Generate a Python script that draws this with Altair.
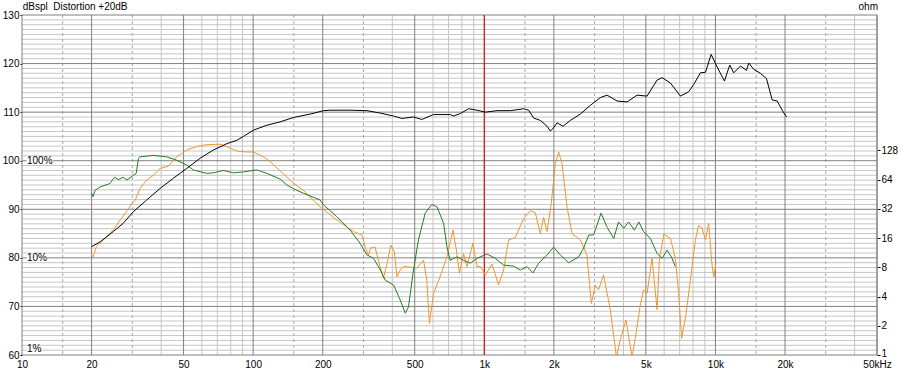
import altair as alt
import pandas as pd

# ---------------- data ----------------
SPL_F = [20.0, 21.8, 24.8, 27.4, 30.3, 34.6, 39.6, 45.2, 51.6, 58.9, 67.3, 76.9, 85.0, 90.8, 100.3,
         114.6, 130.9, 149.4, 176.5, 201.5, 215, 263, 311, 355, 405, 440, 494, 537, 603, 712, 736,
         787, 855, 930, 1010, 1135, 1296, 1480, 1555, 1635, 1748, 1868, 1931, 1995, 2064, 2191,
         2357, 2604, 2877, 3178, 3398, 3753, 4147, 4581, 5061, 5592, 5879, 6387, 7056, 7663, 8056,
         8610, 9052, 9581, 10170, 10940, 11530, 12000, 12830, 13620, 13940, 14650, 15660, 16630,
         17600, 18500, 19440, 20300]
SPL_DB = [82.3, 83.3, 85.4, 87.1, 89.5, 91.9, 94.3, 96.4, 98.4, 100.5, 102.2, 103.5, 104.2, 105.0,
          106.3, 107.3, 108.0, 108.9, 109.6, 110.3, 110.4, 110.4, 110.3, 109.8, 109.2, 108.7, 109.0,
          108.5, 109.5, 109.5, 109.2, 109.7, 110.7, 110.4, 110.0, 110.3, 110.3, 110.7, 110.4, 108.8,
          108.3, 107.1, 106.1, 106.8, 107.8, 107.1, 108.3, 109.6, 111.4, 113.0, 113.5, 112.3, 112.1,
          113.5, 113.3, 116.6, 117.1, 116.0, 113.3, 114.2, 115.7, 118.1, 118.2, 121.9, 119.3, 116.4,
          119.7, 118.1, 119.5, 118.6, 120.1, 118.8, 118.0, 116.9, 112.5, 112.3, 110.4, 109.0]

H2_F = [20.0, 20.3, 20.7, 21.8, 24.0, 25.1, 26.1, 27.4, 28.4, 30.3, 31.2, 31.9, 32.4, 37.0, 42.3,
        46.7, 51.6, 55.1, 63.0, 67.3, 74.3, 82.1, 90.8, 103.7, 114.6, 130.9, 139.9, 154.5, 165.1,
        194.9, 201.5, 230, 263, 290, 311, 332, 355, 373, 405, 433, 455, 470, 494, 519, 555, 593,
        624, 667, 689, 712, 761, 813, 870, 930, 1027, 1116, 1212, 1339, 1431, 1530, 1625, 1718,
        1868, 1995, 2133, 2317, 2560, 2690, 2830, 2970, 3200, 3398, 3630, 3810, 4010, 4210, 4460,
        4660, 4890, 5230, 5592, 5879, 6180, 6490, 6710]
H2_DB = [93.3, 92.6, 93.9, 94.6, 95.3, 96.6, 96.1, 96.6, 96.0, 97.0, 97.4, 100.5, 100.8, 101.1,
         100.8, 100.1, 99.1, 98.1, 97.4, 97.5, 98.0, 97.5, 97.7, 98.1, 97.4, 96.2, 95.0, 93.9, 93.3,
         91.9, 90.9, 88.5, 85.7, 83.0, 80.6, 79.9, 77.5, 75.4, 74.4, 71.3, 68.6, 69.9, 77.5, 83.7,
         89.2, 91.0, 90.5, 87.1, 82.3, 79.5, 80.2, 79.5, 78.9, 79.9, 80.8, 79.9, 78.5, 78.3, 77.5,
         78.2, 76.9, 78.9, 80.6, 82.2, 80.6, 79.0, 80.2, 82.0, 84.7, 84.7, 89.2, 86.3, 84.0, 87.4,
         86.1, 87.4, 85.7, 87.4, 85.4, 84.0, 80.9, 79.9, 81.6, 79.9, 78.2]

H3_F = [20.0, 20.3, 21.0, 22.5, 24.8, 26.6, 28.4, 29.9, 30.9, 32.4, 34.6, 37.0, 39.6, 43.0, 46.7,
        51.6, 57.0, 63.0, 71.9, 76.9, 85.0, 93.8, 100.3, 110.8, 118.5, 130.9, 144.6, 157.1, 165.1,
        194.9, 230, 272, 296, 306, 316, 322, 337, 348, 366, 381, 394, 408, 419, 433, 447, 478, 511,
        546, 564, 579, 603, 644, 689, 732, 757, 781, 813, 841, 893, 930, 961, 1010, 1080, 1153,
        1212, 1274, 1362, 1480, 1582, 1662, 1748, 1806, 1868, 1949, 2030, 2098, 2170, 2280, 2397,
        2604, 2780, 2904, 3020, 3120, 3280, 3510, 3730, 3875, 4100, 4360, 4500, 4730, 4890, 5061,
        5320, 5592, 5720, 5980, 6387, 6710, 6930, 7140, 7430, 7790, 8190, 8460, 8760, 9052, 9350,
        9680, 9840, 10070]
H3_DB = [80.6, 80.2, 82.3, 83.7, 85.7, 87.8, 89.6, 91.2, 91.9, 94.3, 96.0, 97.0, 98.4, 98.9, 100.8,
         102.2, 102.9, 103.3, 103.4, 102.9, 102.0, 101.8, 101.8, 100.8, 99.8, 97.9, 96.0, 94.6, 93.9,
         90.5, 87.8, 85.4, 84.7, 82.0, 80.6, 82.0, 82.2, 79.5, 75.8, 79.2, 82.6, 81.3, 76.1, 77.5,
         78.2, 78.1, 77.9, 79.5, 75.4, 66.5, 72.7, 76.1, 80.2, 85.7, 81.6, 76.8, 80.9, 78.2, 83.0,
         78.2, 78.2, 76.5, 78.7, 74.4, 77.5, 83.7, 84.2, 88.1, 89.7, 89.3, 85.0, 88.3, 85.4, 91.2,
         99.4, 101.8, 99.4, 90.5, 85.0, 83.7, 80.6, 70.6, 74.4, 73.4, 76.5, 69.3, 59.6, 63.1, 67.2,
         59.6, 63.4, 70.3, 73.4, 72.7, 79.9, 69.3, 79.5, 84.9, 84.0, 79.9, 72.7, 63.4, 67.9, 75.4,
         83.7, 86.7, 86.1, 83.7, 87.1, 78.2, 76.1, 79.2]

X_TICKS = [10, 20, 50, 100, 200, 500, 1000, 2000, 5000, 10000, 20000, 50000]
Y_TICKS = [60, 70, 80, 90, 100, 110, 120, 130]
OHM_TICKS = [1, 2, 4, 8, 16, 32, 64, 128]
PCT_LABELS = ["100%", "10%", "1%"]
PCT_LEVELS = [100, 80, 61.2]
MARKER_F = [1000]
TITLE_LEFT = "dBspl\u00a0\u00a0Distortion +20dB"
TITLE_RIGHT = "ohm"

# ---------------- layout / style ----------------
W, H = 855, 340
FONT = "Liberation Sans"
xs = alt.Scale(type="log", domain=[10, 50000])
ys = alt.Scale(domain=[60, 130])
ohm_scale = alt.Scale(type="log", domain=[1, 10 ** 3.5])

decades = [10, 100, 1000, 10000]
major_f = [d * m for d in decades for m in (1, 2, 5)]
dashed_f = [d * m for d in decades for m in (1.5, 3)]
minor_f = [d * m for d in decades for m in (4, 6, 7, 8, 9) if d * m < 50000]
h_minor = [v for v in range(61, 130) if v % 10]
h_major = list(range(60, 131, 10))

x_axis = alt.Axis(values=X_TICKS, title=None, ticks=False, tickSize=0, labelPadding=4,
                  labelFlush=False, labelOverlap=False, labelAngle=0, orient="bottom",
                  labelExpr="datum.value == 50000 ? '50kHz' : (datum.value >= 1000 ? format(datum.value/1000, 'd') + 'k' : format(datum.value, 'd'))")
y_axis = alt.Axis(values=Y_TICKS, title=None, format="d", orient="left", ticks=True,
                  tickSize=2, labelPadding=1, labelFlush=False, labelOverlap=False)

def vrules(vals, color, dash=None):
    kw = dict(color=color, strokeWidth=1)
    if dash:
        kw["strokeDash"] = dash
    return alt.Chart(pd.DataFrame({"f": vals})).mark_rule(**kw).encode(
        x=alt.X("f:Q", scale=xs, axis=x_axis))

def hrules(vals, color):
    return alt.Chart(pd.DataFrame({"y": vals})).mark_rule(color=color, strokeWidth=1).encode(
        y=alt.Y("y:Q", scale=ys, axis=None))

grid = [
    hrules(h_minor, "#c6c6c6"),
    vrules(minor_f, "#c6c6c6"),
    vrules(dashed_f, "#a8a8a8", [3, 3]),
    hrules(h_major, "#808080"),
    vrules(major_f + [50000], "#808080"),
]

red = alt.Chart(pd.DataFrame({"f": MARKER_F})).mark_rule(color="#e00000", strokeWidth=1).encode(
    x=alt.X("f:Q", scale=xs, axis=x_axis))

def curve(fs, dbs, color, yaxis=False):
    df = pd.DataFrame({"f": fs, "db": dbs})
    return alt.Chart(df).mark_line(color=color, strokeWidth=1, clip=True).encode(
        x=alt.X("f:Q", scale=xs, axis=x_axis),
        y=alt.Y("db:Q", scale=ys, axis=y_axis if yaxis else None),
        order="f:Q",
    )

spl = curve(SPL_F, SPL_DB, "#000000", yaxis=True)
h2 = curve(H2_F, H2_DB, "#267a26")
h3 = curve(H3_F, H3_DB, "#f0962e")

# percentage labels with white background
pct_layers = []
for lab, lvl in zip(PCT_LABELS, PCT_LEVELS):
    dfl = pd.DataFrame({"lab": [lab], "y": [lvl], "lo": [lvl - 0.7], "hi": [lvl + 0.7]})
    bg = alt.Chart(dfl).mark_rect(color="white").encode(
        x=alt.value(4.5), x2=alt.value(4.5 + 6.7 * len(lab)),
        y=alt.Y("lo:Q", scale=ys, axis=None), y2="hi:Q")
    tx = alt.Chart(dfl).mark_text(align="left", baseline="middle", font=FONT, fontSize=10,
                                  color="black").encode(
        x=alt.value(5), y=alt.Y("y:Q", scale=ys, axis=None), text="lab:N")
    pct_layers += [bg, tx]

t_left = alt.Chart(pd.DataFrame({"t": [TITLE_LEFT]})).mark_text(
    align="left", baseline="middle", font=FONT, fontSize=10, color="black").encode(
    x=alt.value(0.7), y=alt.value(-8.5), text="t:N")
t_right = alt.Chart(pd.DataFrame({"t": [TITLE_RIGHT]})).mark_text(
    align="right", baseline="middle", font=FONT, fontSize=10, color="black").encode(
    x=alt.value(856), y=alt.value(-8.5), text="t:N")

ohm = alt.Chart(pd.DataFrame({"ohm": OHM_TICKS})).mark_point(opacity=0).encode(
    y=alt.Y("ohm:Q", scale=ohm_scale,
            axis=alt.Axis(orient="right", values=OHM_TICKS, format="d", title=None,
                          tickSize=3, labelPadding=1, labelFlush=False, labelOverlap=False,
                          labelOffset={"condition": {"test": "datum.value == 1", "value": -2},
                                       "value": 0})))

chart = alt.layer(*grid, red, *pct_layers, h3, h2, spl, t_left, t_right, ohm).resolve_scale(
    y="independent").properties(
    width=W, height=H,
    autosize=alt.AutoSizeParams(type="none"),
    padding={"left": 22, "top": 15, "right": 21, "bottom": 16},
    background="white",
).configure_view(stroke=None).configure_axis(
    labelFont=FONT, labelFontSize=10, labelColor="black", tickColor="black",
    domain=False, grid=False)

chart.save("out.html", embed_options={"renderer": "svg", "actions": False})
